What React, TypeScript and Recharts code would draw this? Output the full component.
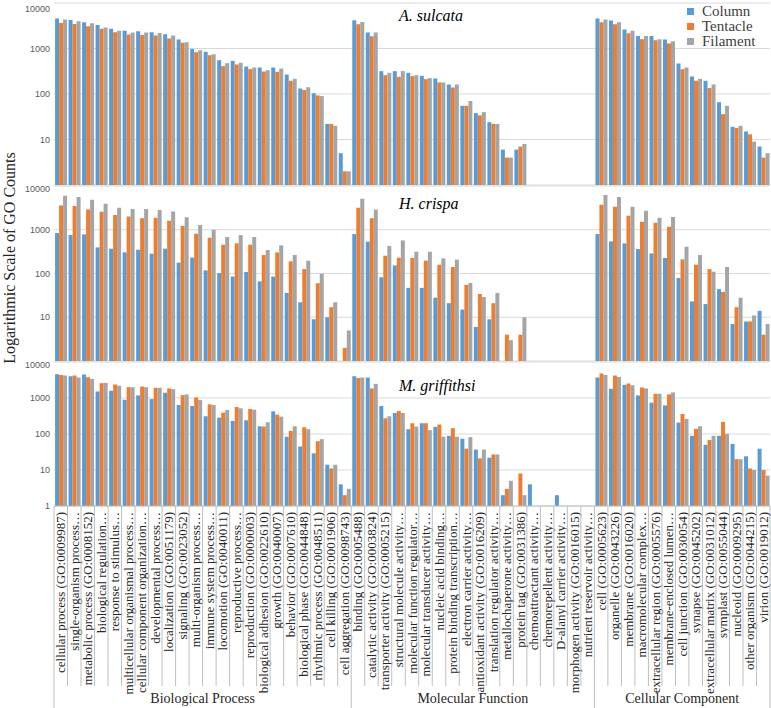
import { BarChart, Bar, XAxis, YAxis, CartesianGrid } from 'recharts';

const bpTerms = [
  'cellular process (GO:0009987)',
  'single-organism process…',
  'metabolic process (GO:0008152)',
  'biological regulation…',
  'response to stimulus…',
  'multicellular organismal process…',
  'cellular component organization…',
  'developmental process…',
  'localization (GO:0051179)',
  'signaling (GO:0023052)',
  'multi-organism process…',
  'immune system process…',
  'locomotion (GO:0040011)',
  'reproductive process…',
  'reproduction (GO:0000003)',
  'biological adhesion (GO:0022610)',
  'growth (GO:0040007)',
  'behavior (GO:0007610)',
  'biological phase (GO:0044848)',
  'rhythmic process (GO:0048511)',
  'cell killing (GO:0001906)',
  'cell aggregation (GO:0098743)',
];
const mfTerms = [
  'binding (GO:0005488)',
  'catalytic activity (GO:0003824)',
  'transporter activity (GO:0005215)',
  'structural molecule activity…',
  'molecular function regulator…',
  'molecular transducer activity…',
  'nucleic acid binding…',
  'protein binding transcription…',
  'electron carrier activity…',
  'antioxidant activity (GO:0016209)',
  'translation regulator activity…',
  'metallochaperone activity…',
  'protein tag (GO:0031386)',
  'chemoattractant activity…',
  'chemorepellent activity…',
  'D-alanyl carrier activity…',
  'morphogen activity (GO:0016015)',
  'nutrient reservoir activity…',
];
const ccTerms = [
  'cell (GO:0005623)',
  'organelle (GO:0043226)',
  'membrane (GO:0016020)',
  'macromolecular complex…',
  'extracellular region (GO:0005576)',
  'membrane-enclosed lumen…',
  'cell junction (GO:0030054)',
  'synapse (GO:0045202)',
  'extracellular matrix (GO:0031012)',
  'symplast (GO:0055044)',
  'nucleoid (GO:0009295)',
  'other organism (GO:0044215)',
  'virion (GO:0019012)',
];

const categories = [...bpTerms, ...mfTerms, ...ccTerms];
const groupNames = ['Biological Process', 'Molecular Function', 'Cellular Component'];
const groupSizes = [bpTerms.length, mfTerms.length, ccTerms.length];

const yTicks = [1, 10, 100, 1000, 10000];
const seriesNames = ['Column', 'Tentacle', 'Filament'];
const seriesColors = ['#5B9BD5', '#ED7D31', '#A5A5A5'];

// A. sulcata
const sulcataColumn = [
  4550, 4250, 3780, 3300, 2700, 2440, 2400, 2280, 2060, 1570, 980, 845, 554, 535, 402, 382, 382, 268, 132, 104, 22, 5,
  4180, 2240, 318, 318, 292, 251, 219, 162, 55, 38, 24, 6, 6, null, null, null, null, null,
  4550, 4110, 2610, 1890, 1890, 1570, 468, 243, 195, 66, 19, 15, 7,
];
const sulcataTentacle = [
  3650, 3470, 3090, 2700, 2280, 2030, 1990, 1930, 1660, 1330, 830, 713, 409, 445, 351, 312, 307, 195, 122, 93, 22, 2,
  3410, 1860, 259, 239, 247, 212, 179, 139, 55, 34, 22, 4, 7, null, null, null, null, null,
  3780, 3410, 2170, 1600, 1520, 1285, 351, 195, 135, 36, 18, 13, 4,
];
const sulcataFilament = [
  4320, 3970, 3590, 2880, 2440, 2240, 2240, 2200, 1930, 1370, 918, 750, 476, 484, 382, 334, 363, 215, 141, 90, 20, 2,
  3840, 2240, 292, 318, 259, 223, 179, 162, 70, 40, 22, 4, 8, null, null, null, null, null,
  4320, 3780, 2440, 1890, 1600, 1445, 382, 215, 162, 55, 20, 9, 5,
];

// H. crispa
const crispaColumn = [
  841, 757, 784, 395, 369, 304, 350, 283, 369, 177, 230, 118, 102, 85, 108, 66, 85, 36, 22, 9, 10, null,
  798, 533, 82, 153, 47, 47, 28, 21, 15, 6, 9, null, null, null, null, null, null, null,
  798, 542, 488, 362, 288, 226, 79, 23, 20, 44, 7, 8, 14,
];
const crispaTentacle = [
  3600, 3480, 2920, 2580, 2170, 2020, 1820, 1880, 1610, 1215, 812, 658, 455, 488, 455, 264, 304, 189, 126, 60, 17, 2,
  3190, 1820, 255, 230, 226, 196, 159, 141, 55, 34, 21, 4, 4, null, null, null, null, null,
  3730, 3360, 2090, 1530, 1450, 1170, 210, 159, 126, 38, 17, 8, 4,
];
const crispaFilament = [
  5990, 5590, 4850, 3940, 3190, 2970, 2970, 2820, 2630, 1920, 1280, 1000, 681, 757, 681, 344, 440, 264, 196, 99, 22, 5,
  5120, 2920, 424, 571, 315, 315, 222, 207, 61, 29, 36, 3, 10, null, null, null, null, null,
  6210, 5590, 3360, 2720, 1880, 1950, 410, 264, 110, 141, 28, 11, 7,
];

// M. griffithsi
const griffithsiColumn = [
  4570, 4030, 4480, 1520, 1585, 895, 1180, 933, 1400, 638, 598, 311, 285, 231, 241, 164, 427, 84, 45, 29, 14, 4,
  4030, 3700, 598, 384, 136, 199, 158, 89, 74, 37, 22, 2, null, 4, null, 2, null, null,
  3700, 1800, 2320, 1180, 740, 624, 208, 89, 50, 89, 53, 24, 39,
];
const griffithsiTentacle = [
  4380, 4200, 3780, 2580, 2370, 2000, 2090, 1920, 1840, 1200, 1040, 665, 392, 561, 494, 161, 345, 122, 154, 63, 11, 2,
  3620, 1840, 273, 436, 199, 199, 183, 145, 39, 21, 27, 3, 8, null, null, null, null, null,
  4770, 4200, 2530, 1960, 1310, 1260, 360, 139, 68, 217, 20, 11, 10,
];
const griffithsiFilament = [
  4200, 3700, 3400, 2630, 2180, 2000, 2000, 1920, 1760, 1260, 877, 638, 464, 516, 474, 212, 304, 164, 136, 72, 14, 3,
  3700, 2470, 311, 384, 161, 128, 84, 84, 82, 37, 27, 5, 2, null, null, null, null, null,
  4380, 3860, 2270, 1840, 1310, 1430, 262, 164, 89, 101, 20, 10, 7,
];

const CHART_W = 771;
const AXIS_W = 54;
const RIGHT = 1;
const BAND = (CHART_W - AXIS_W - RIGHT) / categories.length;
const SERIF = '"Liberation Serif", "Times New Roman", serif';
const SANS = '"Liberation Sans", Arial, sans-serif';
const LINE = '#BFBFBF';

function rows(col: (number | null)[], ten: (number | null)[], fil: (number | null)[]) {
  return categories.map((name, i) => ({ name, Column: col[i], Tentacle: ten[i], Filament: fil[i] }));
}

const makeYTick = (showOne: boolean) => (props: any) => {
  const { y, payload } = props;
  if (!showOne && payload.value === 1) return <g />;
  return (
    <text x={50} y={y} dy={3} textAnchor="end" fontSize={9} fill="#595959" fontFamily={SANS}>
      {payload.value}
    </text>
  );
};

const groupStarts = groupSizes.map((_, g) => groupSizes.slice(0, g).reduce((a, b) => a + b, 0));

function CategoryTick(props: any) {
  const { x, y, payload } = props;
  const i = categories.indexOf(payload.value);
  const g = groupStarts.indexOf(i);
  const left = x - BAND / 2;
  return (
    <g>
      <line x1={left} y1={y} x2={left} y2={y + (g >= 0 ? 202 : 180)} stroke={LINE} />
      {i === categories.length - 1 && (
        <line x1={x + BAND / 2} y1={y} x2={x + BAND / 2} y2={y + 202} stroke={LINE} />
      )}
      <text
        transform={`translate(${x + 4.5}, ${y + 6}) rotate(-90)`}
        textAnchor="end"
        fontSize={13}
        fill="#262626"
        fontFamily={SERIF}
      >
        {payload.value}
      </text>
      {g >= 0 && (
        <text
          x={left + (groupSizes[g] * BAND) / 2}
          y={y + 197}
          textAnchor="middle"
          fontSize={14}
          fill="#262626"
          fontFamily={SERIF}
        >
          {groupNames[g]}
        </text>
      )}
    </g>
  );
}

type PanelProps = {
  data: any[];
  top: number;
  height: number;
  marginTop: number;
  marginBottom: number;
  showOne: boolean;
  showX: boolean;
};

function Panel({ data, top, height, marginTop, marginBottom, showOne, showX }: PanelProps) {
  return (
    <div style={{ position: 'absolute', left: 0, top }}>
      <BarChart
        width={CHART_W}
        height={height}
        data={data}
        margin={{ top: marginTop, right: RIGHT, left: 0, bottom: marginBottom }}
        barCategoryGap="8%"
        barGap={0}
      >
        <CartesianGrid vertical={false} stroke="#D9D9D9" />
        <XAxis
          dataKey="name"
          hide={!showX}
          interval={0}
          height={showX ? 202 : 0}
          tickLine={false}
          tickSize={0}
          tickMargin={0}
          axisLine={{ stroke: LINE }}
          tick={<CategoryTick />}
        />
        <YAxis
          scale="log"
          domain={[1, 10000]}
          allowDataOverflow
          ticks={yTicks}
          width={AXIS_W}
          axisLine={false}
          tickLine={false}
          tick={makeYTick(showOne)}
        />
        {seriesNames.map((s, k) => (
          <Bar key={s} dataKey={s} fill={seriesColors[k]} isAnimationActive={false} />
        ))}
      </BarChart>
    </div>
  );
}

const titleStyle = (top: number): React.CSSProperties => ({
  position: 'absolute',
  left: 399,
  top,
  fontFamily: SERIF,
  fontStyle: 'italic',
  fontSize: 16,
  lineHeight: '18px',
  color: '#000',
});

export default function App() {
  return (
    <div style={{ position: 'absolute', left: 0, top: 0, width: 771, height: 708, background: '#fff', overflow: 'hidden' }}>
      <Panel data={rows(sulcataColumn, sulcataTentacle, sulcataFilament)} top={0} height={190} marginTop={3} marginBottom={5} showOne={false} showX={false} />
      <Panel data={rows(crispaColumn, crispaTentacle, crispaFilament)} top={180} height={187} marginTop={6} marginBottom={6} showOne={false} showX={false} />
      <Panel data={rows(griffithsiColumn, griffithsiTentacle, griffithsiFilament)} top={356} height={352} marginTop={6} marginBottom={0} showOne={true} showX={true} />

      <div style={titleStyle(7)}>A. sulcata</div>
      <div style={titleStyle(195)}>H. crispa</div>
      <div style={titleStyle(377)}>M. griffithsi</div>

      <div style={{ position: 'absolute', left: 687, top: 4, fontFamily: SERIF, fontSize: 15, lineHeight: '15px', color: '#404040' }}>
        {seriesNames.map((s, k) => (
          <div key={s} style={{ display: 'flex', alignItems: 'center', height: 15 }}>
            <span style={{ display: 'inline-block', width: 7, height: 7, background: seriesColors[k], marginRight: 8 }} />
            {s}
          </div>
        ))}
      </div>

      <svg style={{ position: 'absolute', left: 0, top: 0 }} width={24} height={500}>
        <text
          transform="translate(15, 258) rotate(-90)"
          textAnchor="middle"
          fontSize={16}
          fill="#262626"
          fontFamily={SERIF}
        >
          Logarithmic Scale of GO Counts
        </text>
      </svg>
    </div>
  );
}
